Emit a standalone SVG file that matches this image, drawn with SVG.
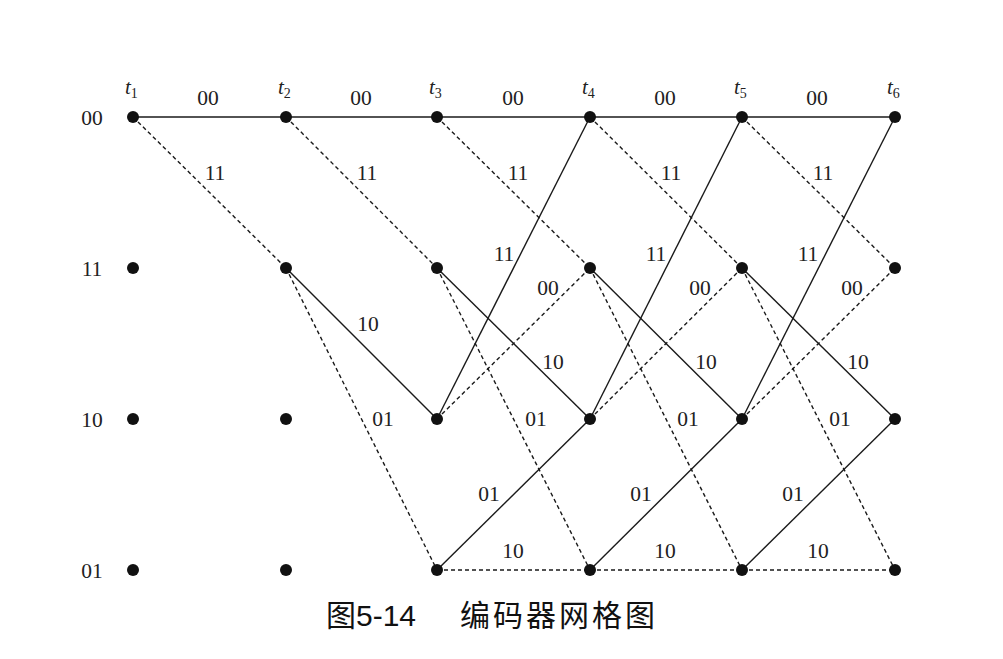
<svg xmlns="http://www.w3.org/2000/svg" width="1003" height="659" viewBox="0 0 1003 659">
<style>
.s{stroke:#1a1a1a;stroke-width:1.4;fill:none}
.d{stroke:#1a1a1a;stroke-width:1.4;fill:none;stroke-dasharray:4 3}
.n{fill:#111}
.l{font-family:"Liberation Serif",serif;font-size:21.5px;fill:#222;text-anchor:middle}
.t{font-family:"Liberation Serif",serif;font-size:21px;fill:#222;font-style:italic}
.ts{font-family:"Liberation Serif",serif;font-size:14px;fill:#222;font-style:normal}
.c{font-family:"Liberation Sans","Noto Sans CJK SC",sans-serif;font-size:30px;fill:#111}
</style>
<rect width="1003" height="659" fill="#fff"/>
<g id="connectors">
<line class="s" x1="133" y1="117" x2="286" y2="117"/>
<line class="d" x1="133" y1="117" x2="286" y2="268"/>
<line class="s" x1="286" y1="117" x2="437" y2="117"/>
<line class="d" x1="286" y1="117" x2="437" y2="268"/>
<line class="s" x1="286" y1="268" x2="437" y2="419"/>
<line class="d" x1="286" y1="268" x2="437" y2="570"/>
<g id="stage3">
<line class="s" x1="437" y1="117" x2="590" y2="117"/>
<line class="d" x1="437" y1="117" x2="590" y2="268"/>
<line class="s" x1="437" y1="268" x2="590" y2="419"/>
<line class="d" x1="437" y1="268" x2="590" y2="570"/>
<line class="s" x1="437" y1="419" x2="590" y2="117"/>
<line class="d" x1="437" y1="419" x2="590" y2="268"/>
<line class="s" x1="437" y1="570" x2="590" y2="419"/>
<line class="d" x1="437" y1="570" x2="590" y2="570"/>
</g>
<g id="stage4">
<line class="s" x1="590" y1="117" x2="742" y2="117"/>
<line class="d" x1="590" y1="117" x2="742" y2="268"/>
<line class="s" x1="590" y1="268" x2="742" y2="419"/>
<line class="d" x1="590" y1="268" x2="742" y2="570"/>
<line class="s" x1="590" y1="419" x2="742" y2="117"/>
<line class="d" x1="590" y1="419" x2="742" y2="268"/>
<line class="s" x1="590" y1="570" x2="742" y2="419"/>
<line class="d" x1="590" y1="570" x2="742" y2="570"/>
</g>
<g id="stage5">
<line class="s" x1="742" y1="117" x2="895" y2="117"/>
<line class="d" x1="742" y1="117" x2="895" y2="268"/>
<line class="s" x1="742" y1="268" x2="895" y2="419"/>
<line class="d" x1="742" y1="268" x2="895" y2="570"/>
<line class="s" x1="742" y1="419" x2="895" y2="117"/>
<line class="d" x1="742" y1="419" x2="895" y2="268"/>
<line class="s" x1="742" y1="570" x2="895" y2="419"/>
<line class="d" x1="742" y1="570" x2="895" y2="570"/>
</g>
</g>
<g id="edge-labels">
<text class="l" x="208" y="105">00</text>
<text class="l" x="215" y="180">11</text>
<text class="l" x="361" y="105">00</text>
<text class="l" x="367" y="180">11</text>
<text class="l" x="368" y="331">10</text>
<text class="l" x="383" y="426">01</text>
<text class="l" x="513" y="105">00</text>
<text class="l" x="518" y="180">11</text>
<text class="l" x="504" y="261">11</text>
<text class="l" x="548" y="295">00</text>
<text class="l" x="553" y="369">10</text>
<text class="l" x="536" y="426">01</text>
<text class="l" x="489" y="501">01</text>
<text class="l" x="513" y="558">10</text>
<text class="l" x="665" y="105">00</text>
<text class="l" x="671" y="180">11</text>
<text class="l" x="656" y="261">11</text>
<text class="l" x="700" y="295">00</text>
<text class="l" x="706" y="369">10</text>
<text class="l" x="688" y="426">01</text>
<text class="l" x="641" y="501">01</text>
<text class="l" x="665" y="558">10</text>
<text class="l" x="817" y="105">00</text>
<text class="l" x="823" y="180">11</text>
<text class="l" x="808" y="261">11</text>
<text class="l" x="852" y="295">00</text>
<text class="l" x="858" y="369">10</text>
<text class="l" x="840" y="426">01</text>
<text class="l" x="793" y="501">01</text>
<text class="l" x="818" y="558">10</text>
</g>
<g id="row-labels">
<text class="l" x="92" y="125">00</text>
<text class="l" x="92" y="276">11</text>
<text class="l" x="92" y="427">10</text>
<text class="l" x="92" y="578">01</text>
</g>
<g id="time-labels">
<text class="t" x="125" y="94">t<tspan class="ts" dy="4">1</tspan></text>
<text class="t" x="278" y="94">t<tspan class="ts" dy="4">2</tspan></text>
<text class="t" x="429" y="94">t<tspan class="ts" dy="4">3</tspan></text>
<text class="t" x="582" y="94">t<tspan class="ts" dy="4">4</tspan></text>
<text class="t" x="734" y="94">t<tspan class="ts" dy="4">5</tspan></text>
<text class="t" x="887" y="94">t<tspan class="ts" dy="4">6</tspan></text>
</g>
<g id="nodes">
<g id="n1"><circle class="n" cx="133" cy="117" r="6"/><circle class="n" cx="133" cy="268" r="6"/><circle class="n" cx="133" cy="419" r="6"/><circle class="n" cx="133" cy="570" r="6"/></g>
<g id="n2"><circle class="n" cx="286" cy="117" r="6"/><circle class="n" cx="286" cy="268" r="6"/><circle class="n" cx="286" cy="419" r="6"/><circle class="n" cx="286" cy="570" r="6"/></g>
<g id="n3"><circle class="n" cx="437" cy="117" r="6"/><circle class="n" cx="437" cy="268" r="6"/><circle class="n" cx="437" cy="419" r="6"/><circle class="n" cx="437" cy="570" r="6"/></g>
<g id="n4"><circle class="n" cx="590" cy="117" r="6"/><circle class="n" cx="590" cy="268" r="6"/><circle class="n" cx="590" cy="419" r="6"/><circle class="n" cx="590" cy="570" r="6"/></g>
<g id="n5"><circle class="n" cx="742" cy="117" r="6"/><circle class="n" cx="742" cy="268" r="6"/><circle class="n" cx="742" cy="419" r="6"/><circle class="n" cx="742" cy="570" r="6"/></g>
<g id="n6"><circle class="n" cx="895" cy="117" r="6"/><circle class="n" cx="895" cy="268" r="6"/><circle class="n" cx="895" cy="419" r="6"/><circle class="n" cx="895" cy="570" r="6"/></g>
</g>
<g id="caption">
<text class="c" x="326" y="626">图5-14</text>
<text class="c" x="460" y="626" letter-spacing="3">编码器网格图</text>
</g>
</svg>
